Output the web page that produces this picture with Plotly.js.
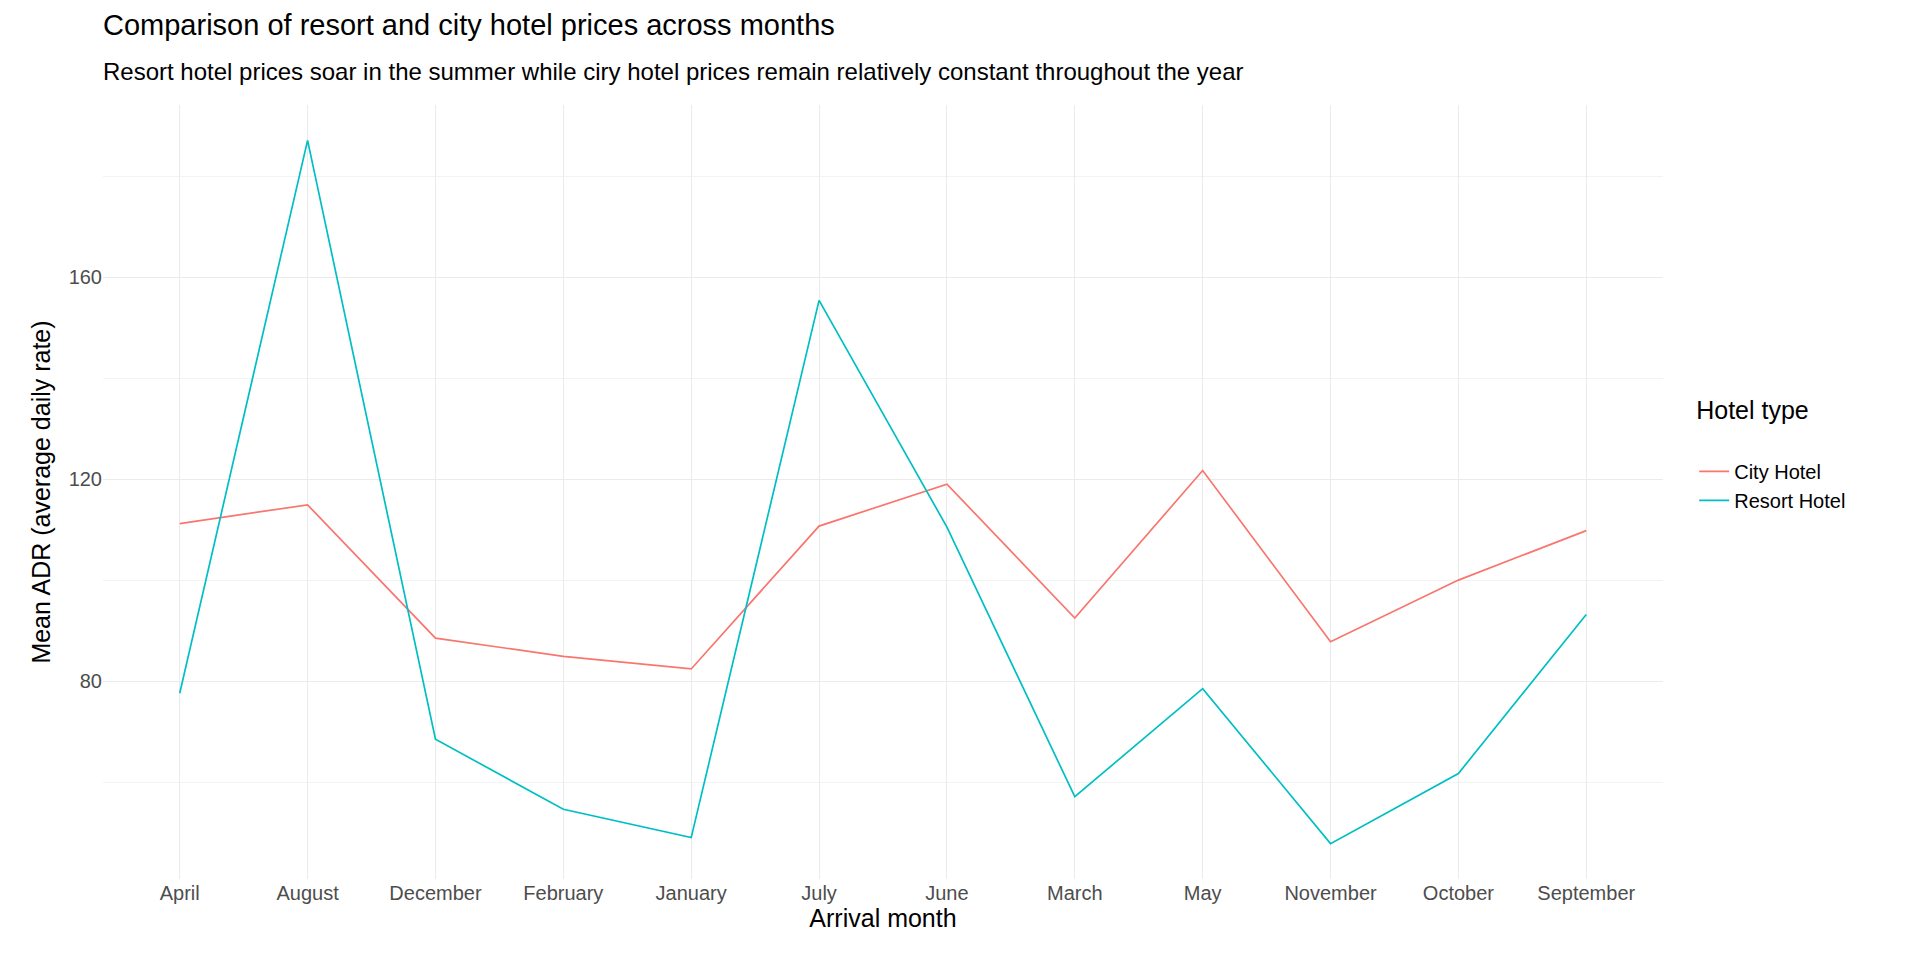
<!DOCTYPE html>
<html>
<head>
<meta charset="utf-8">
<script src="https://cdn.plot.ly/plotly-3.0.1.min.js"></script>
<style>body{margin:0;background:#fff}#myDiv{width:1920px;height:960px}</style>
</head>
<body>
<div id="myDiv"></div>
<script>
var months = ['April', 'August', 'December', 'February', 'January', 'July', 'June', 'March', 'May', 'November', 'October', 'September'];
var cityAdr = [111.2, 114.9, 88.5, 84.9, 82.4, 110.7, 119.0, 92.5, 121.7, 87.8, 100.0, 109.8];
var resortAdr = [77.6, 187.1, 68.5, 54.6, 49.0, 155.4, 110.5, 57.1, 78.5, 47.8, 61.7, 93.2];

var data = [{
    x: months, y: cityAdr, name: 'City Hotel', type: 'scatter', mode: 'lines',
    line: {color: '#F8766D', width: 1.7}
}, {
    x: months, y: resortAdr, name: 'Resort Hotel', type: 'scatter', mode: 'lines',
    line: {color: '#00BFC4', width: 1.7}
}];

var layout = {
    width: 1920, height: 960,
    margin: {l: 103, r: 257, t: 105, b: 81},
    paper_bgcolor: '#fff', plot_bgcolor: '#fff',
    font: {family: 'Liberation Sans, Arial, sans-serif', color: '#000'},
    annotations: [{
        text: 'Comparison of resort and city hotel prices across months',
        xref: 'paper', yref: 'paper', x: -0.001, y: 1.0 + 80 / 774, xanchor: 'left', yanchor: 'middle',
        showarrow: false, font: {size: 29}
    }, {
        text: 'Resort hotel prices soar in the summer while ciry hotel prices remain relatively constant throughout the year',
        xref: 'paper', yref: 'paper', x: -0.001, y: 1.0 + 33 / 774, xanchor: 'left', yanchor: 'middle',
        showarrow: false, font: {size: 24}
    }],
    xaxis: {
        type: 'category', range: [-0.6, 11.6], showline: false, zeroline: false,
        gridcolor: '#ebebeb', gridwidth: 1.4, ticks: '',
        tickfont: {size: 20, color: '#4d4d4d'},
        title: {text: 'Arrival month', font: {size: 25}, standoff: 6}
    },
    yaxis: {
        range: [40.8, 194.1], dtick: 40, tick0: 0, zeroline: false, showline: false,
        gridcolor: '#ebebeb', gridwidth: 1.4, ticks: '',
        tickfont: {size: 20, color: '#4d4d4d'},
        minor: {dtick: 20, tick0: 0, showgrid: true, gridcolor: '#f3f3f3', gridwidth: 0.9},
        title: {text: 'Mean ADR (average daily rate)', font: {size: 25}, standoff: 10}
    },
    legend: {x: 1.02, xanchor: 'left', y: 0.55, yanchor: 'middle',
        title: {text: 'Hotel type<br>', font: {size: 25}}, font: {size: 20}, tracegroupgap: 10},
    showlegend: true
};

Plotly.newPlot('myDiv', data, layout, {displayModeBar: false});
</script>
</body>
</html>
